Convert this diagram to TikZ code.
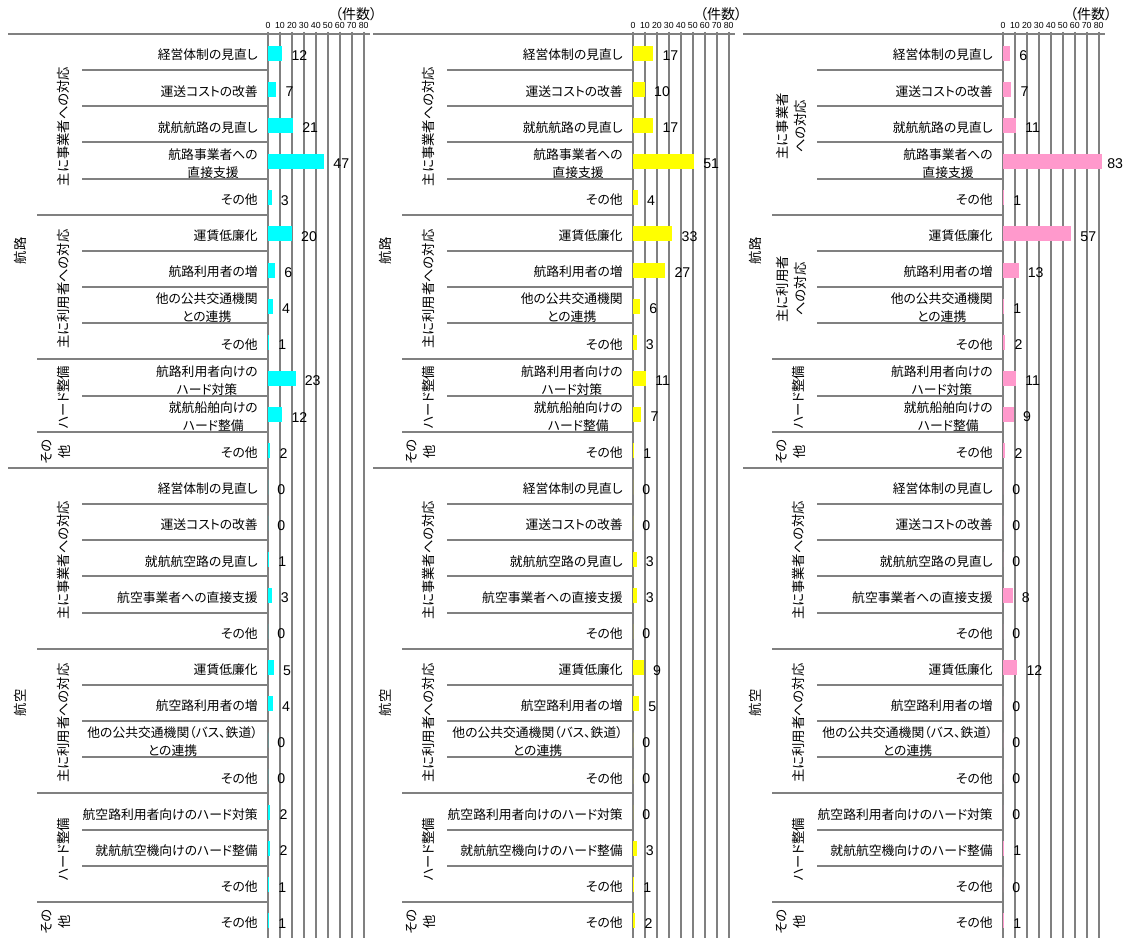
\documentclass[tikz,border=0pt]{standalone}
\usepackage{fontspec}
\setmainfont[RawFeature=+palt]{Noto Sans CJK JP}
\newfontfamily\numfont{Liberation Sans}
\definecolor{rulegray}{RGB}{128,128,128}
\definecolor{barcyan}{RGB}{0,255,255}
\definecolor{baryellow}{RGB}{255,255,0}
\definecolor{barpink}{RGB}{255,153,204}

\begin{document}
\begin{tikzpicture}[yscale=-1, x=0.75pt, y=0.75pt]
	\tikzstyle{chartrule} = [line width=1.5pt, draw=rulegray]
	\tikzstyle{rowlbl} = [anchor=east, inner sep=0pt, align=center, font=\fontsize{9.6}{13.5}\selectfont]
	\tikzstyle{grplbl} = [rotate=90, inner sep=0pt, align=center, font=\fontsize{10}{13.5}\selectfont]
	\tikzstyle{vallbl} = [anchor=west, inner sep=0pt, font=\numfont\fontsize{10.6}{12}\selectfont]
	\tikzstyle{ticklbl} = [inner sep=0pt, font=\numfont\fontsize{6.6}{8}\selectfont]
	\tikzstyle{unitlbl} = [inner sep=0pt, font=\fontsize{10.5}{12}\selectfont]

	\useasboundingbox (0,0) rectangle (1125,938);

	\foreach \dx/\bizlbl/\usrlbl/\gx/\n in {0/主に事業者への対応/主に利用者への対応/63/a, 365/主に事業者への対応/主に利用者への対応/63/b, 735/{主に事業者\\への対応}/{主に利用者\\への対応}/56/c} {
		\node[unitlbl] (u\n) at ({356+\dx},14) {（件数）};
		\draw[chartrule] ({8+\dx},34) -- ({370+\dx},34);
		\foreach \t in {0,10,...,80} {
			\draw[chartrule] ({268+\dx+1.196*\t},32) -- ({268+\dx+1.196*\t},938);
			\node[ticklbl] (t\n-\t) at ({268+\dx+1.196*\t},25) {\t};
		}
		\foreach \k in {1,2,3,4,6,7,8,10,13,14,15,16,18,19,20,22,23}
			\draw[chartrule] ({82+\dx},{34+36.16*\k}) -- ({268+\dx},{34+36.16*\k});
		\foreach \k in {5,9,11,17,21,24}
			\draw[chartrule] ({37+\dx},{34+36.16*\k}) -- ({268+\dx},{34+36.16*\k});
		\draw[chartrule] ({8+\dx},{34+36.16*12}) -- ({268+\dx},{34+36.16*12});

		\node[grplbl] (m\n-1) at ({20+\dx},{34+36.16*6}) {航路};
		\node[grplbl] (m\n-2) at ({20+\dx},{34+36.16*18.5}) {航空};
		\node[grplbl] (g\n-1) at ({\gx+\dx},{36+36.16*2.5}) {\bizlbl};
		\node[grplbl] (g\n-2) at ({\gx+\dx},{36+36.16*7}) {\usrlbl};
		\node[grplbl] (g\n-3) at ({63+\dx},{36+36.16*10}) {ハード整備};
		\node[grplbl] (g\n-4) at ({56+\dx},{36+36.16*11.5}) {その\\他};
		\node[grplbl] (g\n-5) at ({63+\dx},{36+36.16*14.5}) {主に事業者への対応};
		\node[grplbl] (g\n-6) at ({63+\dx},{36+36.16*19}) {主に利用者への対応};
		\node[grplbl] (g\n-7) at ({63+\dx},{36+36.16*22.5}) {ハード整備};
		\node[grplbl] (g\n-8) at ({56+\dx},{36+36.16*24.5}) {その\\他};
	}

	\foreach \lbl/\a/\b/\c [count=\i from 0] in {
		経営体制の見直し/12/17/6,
		運送コストの改善/7/10/7,
		就航航路の見直し/21/17/11,
		{航路事業者への\\直接支援}/47/51/83,
		その他/3/4/1,
		運賃低廉化/20/33/57,
		航路利用者の増/6/27/13,
		{他の公共交通機関\\との連携}/4/6/1,
		その他/1/3/2,
		{航路利用者向けの\\ハード対策}/23/11/11,
		{就航船舶向けの\\ハード整備}/12/7/9,
		その他/2/1/2,
		経営体制の見直し/0/0/0,
		運送コストの改善/0/0/0,
		就航航空路の見直し/1/3/0,
		航空事業者への直接支援/3/3/8,
		その他/0/0/0,
		運賃低廉化/5/9/12,
		航空路利用者の増/4/5/0,
		{他の公共交通機関（バス、鉄道）\\との連携}/0/0/0,
		その他/0/0/0,
		航空路利用者向けのハード対策/2/0/0,
		就航航空機向けのハード整備/2/3/1,
		その他/1/1/0,
		その他/1/2/1} {
		\foreach \dx/\v/\col/\n in {0/\a/barcyan/a, 365/\b/baryellow/b, 735/\c/barpink/c} {
			\node[rowlbl] (r\n-\i) at ({258+\dx},{55+36.16*\i}) {\lbl};
			\fill[\col] ({268+\dx},{45.6+36.16*\i}) rectangle ({268+\dx+1.196*\v},{60.6+36.16*\i});
			\node[vallbl] (v\n-\i) at ({min(277+\dx+1.196*\v,1107)},{55.5+36.16*\i}) {\v};
		}
	}
\end{tikzpicture}
\end{document}
